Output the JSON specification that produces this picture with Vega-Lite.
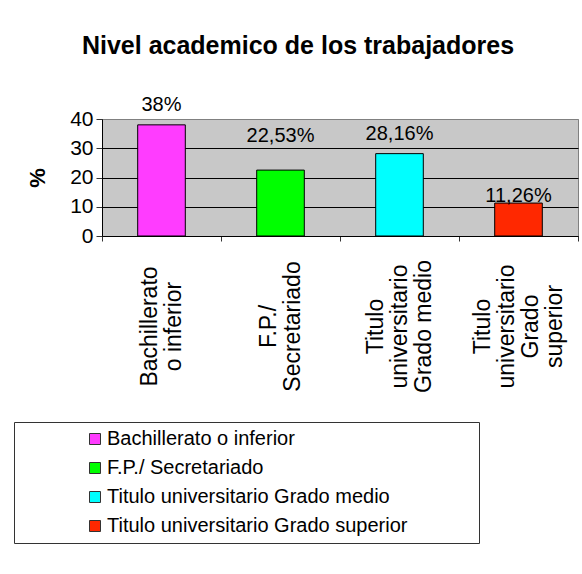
{
  "$schema": "https://vega.github.io/schema/vega-lite/v6.json",
  "width": 476,
  "height": 117,
  "autosize": {"type": "none"},
  "padding": {"left": 102, "top": 119, "right": 4, "bottom": 338},
  "background": "white",
  "title": {
    "text": "Nivel academico de los trabajadores",
    "frame": "group",
    "anchor": "middle",
    "dx": -42,
    "fontSize": 25,
    "fontWeight": "bold",
    "font": "Liberation Sans",
    "color": "black",
    "baseline": "alphabetic",
    "offset": 16
  },
  "data": {
    "values": [
      {"nivel": "Bachillerato o inferior", "pct": 38, "label": "38%"},
      {"nivel": "F.P./ Secretariado", "pct": 22.53, "label": "22,53%"},
      {"nivel": "Titulo universitario Grado medio", "pct": 28.16, "label": "28,16%"},
      {"nivel": "Titulo universitario Grado superior", "pct": 11.26, "label": "11,26%"}
    ]
  },
  "config": {
    "view": {"fill": "#c8c8c8", "stroke": "#808080", "strokeWidth": 1},
    "font": "Liberation Sans"
  },
  "encoding": {
    "x": {
      "field": "nivel",
      "type": "nominal",
      "sort": null,
      "scale": {"paddingInner": 0, "paddingOuter": 0},
      "axis": {
        "title": null,
        "tickBand": "extent",
        "labelAngle": 270,
        "labelAlign": "center",
        "labelBaseline": "middle",
        "labelPadding": 85,
        "labelFontSize": 23,
        "labelLineHeight": 24,
        "labelColor": "black",
        "labelLimit": 0,
        "labelOffset": {
          "condition": [
            {"test": "datum.value == 'Titulo universitario Grado superior'", "value": -36},
            {"test": "datum.value == 'Titulo universitario Grado medio'", "value": -24}
          ],
          "value": -12
        },
        "labelExpr": "datum.value == 'Bachillerato o inferior' ? ['Bachillerato', 'o inferior'] : datum.value == 'F.P./ Secretariado' ? ['F.P./', 'Secretariado'] : datum.value == 'Titulo universitario Grado medio' ? ['Titulo', 'universitario', 'Grado medio'] : datum.value == 'Titulo universitario Grado superior' ? ['Titulo', 'universitario', 'Grado', 'superior'] : ''",
        "tickColor": "#333333",
        "tickSize": 5,
        "domainColor": "black",
        "grid": false
      }
    },
    "y": {
      "field": "pct",
      "type": "quantitative",
      "scale": {"domain": [0, 40]},
      "axis": {
        "values": [0, 10, 20, 30, 40],
        "title": "%",
        "titleFontSize": 22,
        "titleFontWeight": "bold",
        "titleColor": "black",
        "titleAngle": 270,
        "titleX": -65,
        "titleY": 58.5,
        "titleAlign": "center",
        "titleBaseline": "middle",
        "labelFontSize": 21,
        "labelColor": "black",
        "labelPadding": 3,
        "tickSize": 6,
        "tickColor": "#333333",
        "domainColor": "black",
        "gridColor": {"condition": {"test": "datum.value == 40", "value": "#808080"}, "value": "black"},
        "gridOpacity": 1,
        "gridWidth": 1
      }
    }
  },
  "layer": [
    {
      "mark": {"type": "bar", "width": {"band": 0.4}, "stroke": "black", "strokeWidth": 1},
      "encoding": {
        "color": {
          "field": "nivel",
          "type": "nominal",
          "sort": null,
          "scale": {"range": ["#ff3cff", "#00ff00", "#00ffff", "#ff2800"]},
          "legend": {
            "orient": "none",
            "legendX": -88,
            "legendY": 303,
            "title": " ",
            "titleOrient": "right",
            "titlePadding": 65,
            "titleFontSize": 4,
            "strokeColor": "#333333",
            "fillColor": "white",
            "padding": 7,
            "symbolType": "square",
            "symbolSize": 121,
            "symbolStrokeColor": "#333333",
            "symbolStrokeWidth": 1,
            "symbolOffset": 64,
            "labelOffset": 2,
            "labelFontSize": 20,
            "labelColor": "black",
            "labelLimit": 0,
            "rowPadding": 9
          }
        }
      }
    },
    {
      "transform": [{"filter": "datum.label == '38%' || datum.label == '28,16%'"}],
      "mark": {"type": "text", "dy": -14, "fontSize": 20, "baseline": "alphabetic", "color": "black"},
      "encoding": {"text": {"field": "label"}}
    },
    {
      "transform": [{"filter": "datum.label == '22,53%'"}],
      "mark": {"type": "text", "dy": -28, "fontSize": 20, "baseline": "alphabetic", "color": "black"},
      "encoding": {"text": {"field": "label"}}
    },
    {
      "transform": [{"filter": "datum.label == '11,26%'"}],
      "mark": {"type": "text", "dy": -1, "fontSize": 20, "baseline": "alphabetic", "color": "black"},
      "encoding": {"text": {"field": "label"}}
    }
  ]
}
